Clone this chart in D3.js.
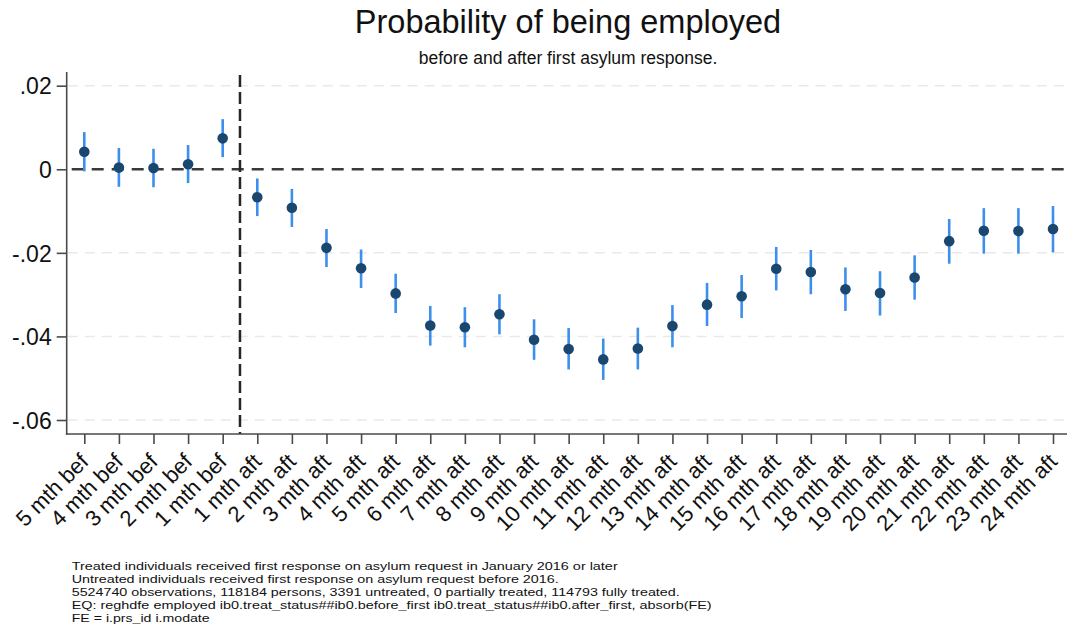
<!DOCTYPE html>
<html>
<head>
<meta charset="utf-8">
<script src="https://cdn.jsdelivr.net/npm/d3@7"></script>
<style>
  html, body { margin: 0; padding: 0; background: #fff; }
  svg { display: block; font-family: "Liberation Sans", Arial, sans-serif; }
</style>
</head>
<body>
<svg id="chart" width="1067" height="630"></svg>
<script>
// ---- Data ----
const categories = [
  "5 mth bef","4 mth bef","3 mth bef","2 mth bef","1 mth bef",
  "1 mth aft","2 mth aft","3 mth aft","4 mth aft","5 mth aft","6 mth aft",
  "7 mth aft","8 mth aft","9 mth aft","10 mth aft","11 mth aft","12 mth aft",
  "13 mth aft","14 mth aft","15 mth aft","16 mth aft","17 mth aft","18 mth aft",
  "19 mth aft","20 mth aft","21 mth aft","22 mth aft","23 mth aft","24 mth aft"
];
const estimates = [
  0.0042, 0.0004, 0.0003, 0.0012, 0.0074,
  -0.0067, -0.0092, -0.0188, -0.0237, -0.0297, -0.0374,
  -0.0378, -0.0347, -0.0408, -0.0430, -0.0455, -0.0429,
  -0.0375, -0.0324, -0.0304, -0.0238, -0.0246, -0.0287,
  -0.0296, -0.0259, -0.0172, -0.0147, -0.0148, -0.0143
];
const ciUpper = [
  0.0089, 0.0051, 0.0049, 0.0058, 0.0120,
  -0.0022, -0.0047, -0.0143, -0.0192, -0.0250, -0.0327,
  -0.0330, -0.0299, -0.0359, -0.0380, -0.0405, -0.0379,
  -0.0325, -0.0272, -0.0253, -0.0186, -0.0193, -0.0235,
  -0.0244, -0.0206, -0.0119, -0.0093, -0.0093, -0.0088
];
const ciLower = [
  -0.0005, -0.0042, -0.0043, -0.0033, 0.0029,
  -0.0112, -0.0138, -0.0234, -0.0284, -0.0344, -0.0422,
  -0.0426, -0.0395, -0.0456, -0.0479, -0.0504, -0.0479,
  -0.0426, -0.0375, -0.0356, -0.0290, -0.0299, -0.0339,
  -0.0350, -0.0312, -0.0226, -0.0202, -0.0202, -0.0199
];
const yTicks = [0.02, 0, -0.02, -0.04, -0.06];
const yTickLabels = [".02", "0", "-.02", "-.04", "-.06"];
const title = "Probability of being employed";
const subtitle = "before and after first asylum response.";
const notes = [
  "Treated individuals received first response on asylum request in January 2016 or later",
  "Untreated individuals received first response on asylum request before 2016.",
  "5524740 observations, 118184 persons, 3391 untreated, 0 partially treated, 114793 fully treated.",
  "EQ: reghdfe employed ib0.treat_status##ib0.before_first ib0.treat_status##ib0.after_first, absorb(FE)",
  "FE = i.prs_id i.modate"
];
const noteWidths = [546, 487, 608, 640, 138];

// ---- Layout ----
const svg = d3.select("#chart");
const plot = { left: 66.7, right: 1066, top: 72, bottom: 434 };

const x = d3.scalePoint().domain(categories).range([84.3, 1053]);
const y = d3.scaleLinear().domain([-0.06, 0.02]).range([420, 85.7]);

// gridlines
svg.append("g").selectAll("line")
  .data(yTicks.filter(d => d !== 0))
  .join("line")
  .attr("x1", plot.left + 1).attr("x2", plot.right)
  .attr("y1", d => y(d)).attr("y2", d => y(d))
  .attr("stroke", "#e9e9e9").attr("stroke-width", 1.5)
  .attr("stroke-dasharray", "10,7");

// zero line
svg.append("line")
  .attr("x1", plot.left + 1).attr("x2", plot.right)
  .attr("y1", y(0)).attr("y2", y(0))
  .attr("stroke", "#3a3a3a").attr("stroke-width", 2.5)
  .attr("stroke-dasharray", "12,8").attr("stroke-dashoffset", -4);

// vertical event line
const xv = (x(categories[4]) + x(categories[5])) / 2;
svg.append("line")
  .attr("x1", xv).attr("x2", xv)
  .attr("y1", plot.top + 3).attr("y2", plot.bottom)
  .attr("stroke", "#262626").attr("stroke-width", 2.5)
  .attr("stroke-dasharray", "12,5");

// axes
const yAxis = d3.axisLeft(y)
  .tickValues(yTicks)
  .tickFormat((d, i) => yTickLabels[i])
  .tickSize(10).tickPadding(5);
const gy = svg.append("g").attr("transform", `translate(${plot.left},0)`).call(yAxis);
gy.select(".domain").remove();
gy.selectAll(".tick line").attr("stroke", "#4a4a4a").attr("stroke-width", 1.6);
gy.selectAll(".tick text")
  .attr("font-size", 23).attr("fill", "#111")
  .attr("font-family", "Liberation Sans, Arial, sans-serif")
  .attr("dy", "0.36em");

const xAxis = d3.axisBottom(x).tickSize(10).tickPadding(0);
const gx = svg.append("g").attr("transform", `translate(0,${plot.bottom})`).call(xAxis);
gx.select(".domain").remove();
gx.selectAll(".tick line").attr("stroke", "#4a4a4a").attr("stroke-width", 1.6);
gx.selectAll(".tick text")
  .attr("font-size", 22).attr("fill", "#111")
  .attr("font-family", "Liberation Sans, Arial, sans-serif")
  .attr("text-anchor", "end")
  .attr("x", null).attr("y", null).attr("dy", null)
  .attr("transform", "translate(5,29) rotate(-45)");

// axis lines
svg.append("line")
  .attr("x1", plot.left).attr("x2", plot.left)
  .attr("y1", plot.top).attr("y2", plot.bottom + 0.8)
  .attr("stroke", "#4a4a4a").attr("stroke-width", 1.6);
svg.append("line")
  .attr("x1", plot.left - 0.8).attr("x2", plot.right + 1)
  .attr("y1", plot.bottom).attr("y2", plot.bottom)
  .attr("stroke", "#4a4a4a").attr("stroke-width", 1.6);

// error bars
const idx = d3.range(categories.length);
svg.append("g").selectAll("line")
  .data(idx).join("line")
  .attr("x1", i => x(categories[i])).attr("x2", i => x(categories[i]))
  .attr("y1", i => y(ciUpper[i])).attr("y2", i => y(ciLower[i]))
  .attr("stroke", "#3d8fee").attr("stroke-width", 2.6);

// points
svg.append("g").selectAll("circle")
  .data(idx).join("circle")
  .attr("cx", i => x(categories[i])).attr("cy", i => y(estimates[i]))
  .attr("r", 5.3).attr("fill", "#1a476f");

// titles
svg.append("text")
  .attr("x", 568).attr("y", 33)
  .attr("text-anchor", "middle")
  .attr("font-size", 32.5).attr("fill", "#111")
  .text(title);
svg.append("text")
  .attr("x", 568).attr("y", 64)
  .attr("text-anchor", "middle")
  .attr("font-size", 17.5).attr("fill", "#111")
  .text(subtitle);

// notes
const noteBaselines = [570, 583, 596, 609, 622];
svg.append("g").selectAll("text")
  .data(notes).join("text")
  .attr("x", 71.7)
  .attr("y", (d, i) => noteBaselines[i])
  .attr("font-size", 11.5).attr("fill", "#111")
  .attr("textLength", (d, i) => noteWidths[i])
  .attr("lengthAdjust", "spacingAndGlyphs")
  .text(d => d);
</script>
</body>
</html>
